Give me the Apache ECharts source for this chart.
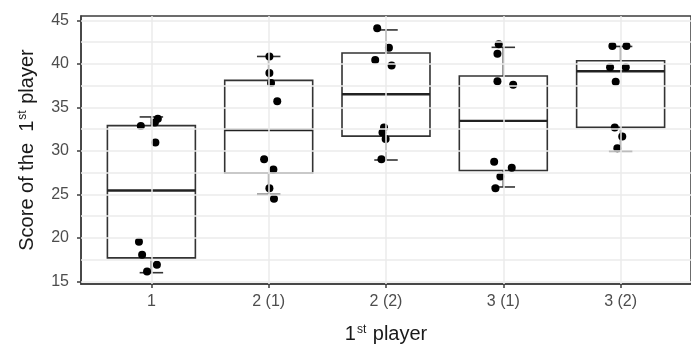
<!DOCTYPE html>
<html>
<head>
<meta charset="utf-8">
<script src="https://cdn.jsdelivr.net/npm/echarts@6/dist/echarts.min.js"></script>
<style>html,body{margin:0;padding:0;background:#fff}#c{width:691px;height:349px}</style>
</head>
<body>
<div id="c"></div>
<script>
const categories = ['1', '2 (1)', '2 (2)', '3 (1)', '3 (2)'];
// [lower whisker, Q1, median, Q3, upper whisker]
const boxLow    = [16.0, 25.0, 28.95, 25.85, 29.95];
const boxQ1     = [17.7, 27.45, 31.7, 27.75, 32.7];
const boxMedian = [25.45, 32.4, 36.5, 33.45, 39.15];
const boxQ3     = [32.9, 38.1, 41.25, 38.6, 40.35];
const boxHigh   = [33.9, 40.85, 43.9, 41.9, 42.0];
// jittered points: value and horizontal jitter (category units)
const pts1 = [33.7, 33.25, 32.85, 30.95, 19.55, 18.05, 16.9, 16.15];
const jit1 = [0.055, 0.03, -0.09, 0.034, -0.106, -0.079, 0.047, -0.037];
const pts2 = [40.85, 38.95, 37.8, 35.7, 29.05, 27.85, 25.7, 24.5];
const jit2 = [0.006, 0.006, 0.02, 0.073, -0.039, 0.04, 0.006, 0.045];
const pts3 = [44.1, 41.85, 40.45, 39.8, 32.7, 32.1, 31.35, 29.05];
const jit3 = [-0.075, 0.025, -0.092, 0.048, -0.017, -0.03, -0.003, -0.039];
const pts4 = [42.25, 41.15, 38.0, 37.6, 28.75, 28.05, 27.05, 25.7];
const jit4 = [-0.039, -0.05, -0.05, 0.084, -0.078, 0.072, -0.025, -0.067];
const pts5 = [42.05, 42.05, 39.6, 39.6, 37.95, 32.7, 31.65, 30.3];
const jit5 = [-0.07, 0.05, -0.09, 0.044, -0.042, -0.05, 0.014, -0.028];
const yTicks = [15, 20, 25, 30, 35, 40, 45];
const yGrid = [15, 17.5, 20, 22.5, 25, 27.5, 30, 32.5, 35, 37.5, 40, 42.5, 45];
const xTicks = [0, 1, 2, 3, 4];

const ptsAll = [pts1, pts2, pts3, pts4, pts5];
const jitAll = [jit1, jit2, jit3, jit4, jit5];
const scatterData = [];
ptsAll.forEach((arr, i) => arr.forEach((v, k) => scatterData.push([i + jitAll[i][k], v])));
const boxData = categories.map((c, i) => [i, boxLow[i], boxQ1[i], boxMedian[i], boxQ3[i], boxHigh[i]]);

const FONT = '"Liberation Sans", Arial, sans-serif';
const chart = echarts.init(document.getElementById('c'), null, {renderer: 'canvas'});
chart.setOption({
  animation: false,
  backgroundColor: '#fff',
  grid: {left: 81, right: -10.6, top: 16, bottom: 63, show: true, borderColor: '#3d3d3d', borderWidth: 1.5, backgroundColor: 'transparent'},
  xAxis: {
    type: 'value', min: -0.6, max: 4.6,
    axisLine: {show: true, onZero: false, lineStyle: {color: '#3d3d3d', width: 1.5}},
    splitLine: {show: false},
    axisTick: {show: true, customValues: xTicks, length: 4, lineStyle: {color: '#3d3d3d', width: 1.5}},
    axisLabel: {customValues: xTicks, formatter: v => categories[Math.round(v)], fontSize: 16, color: '#4d4d4d', margin: 10, fontFamily: FONT},
    name: '{a|1}{s|st}{a| player}', nameLocation: 'middle', nameGap: 40,
    nameTextStyle: {rich: {a: {fontSize: 20, color: '#1a1a1a', fontFamily: FONT}, s: {fontSize: 12, color: '#1a1a1a', fontFamily: FONT, verticalAlign: 'top', padding: [0, 1, 0, 1]}}}
  },
  yAxis: {
    type: 'value', min: 14.7, max: 45.5,
    axisLine: {show: true, onZero: false, lineStyle: {color: '#3d3d3d', width: 1.5}},
    splitLine: {show: false},
    axisTick: {show: true, customValues: yTicks, length: 4, lineStyle: {color: '#3d3d3d', width: 1.5}},
    axisLabel: {customValues: yTicks, fontSize: 16, color: '#4d4d4d', margin: 12, fontFamily: FONT},
    name: '{a|Score of the  1}{s|st}{a| player}', nameLocation: 'middle', nameRotate: 90, nameGap: 44,
    nameTextStyle: {rich: {a: {fontSize: 20, color: '#1a1a1a', fontFamily: FONT}, s: {fontSize: 12, color: '#1a1a1a', fontFamily: FONT, verticalAlign: 'top', padding: [0, 1, 0, 1]}}}
  },
  series: [
    {
      type: 'line', data: [], z: 1, silent: true,
      markLine: {
        silent: true, symbol: 'none', animation: false, label: {show: false},
        lineStyle: {color: '#ebebeb', width: 1.5, type: 'solid'},
        data: yGrid.map(v => ({yAxis: v})).concat(xTicks.map(v => ({xAxis: v})))
      }
    },
    {
      type: 'custom', z: 2, data: boxData,
      encode: {x: 0, y: [1, 2, 3, 4, 5]},
      renderItem: function (params, api) {
        const x = api.value(0);
        const lo = api.value(1), q1 = api.value(2), med = api.value(3), q3 = api.value(4), hi = api.value(5);
        const bw = api.size([1, 0])[0];
        const half = bw * 0.75 / 2, cap = bw * 0.2 / 2;
        const c = api.coord([x, 0])[0];
        const Y = v => api.coord([x, v])[1];
        const stroke = {stroke: '#333', lineWidth: 1.6, fill: null};
        return {type: 'group', children: [
          {type: 'line', shape: {x1: c, y1: Y(lo), x2: c, y2: Y(q1)}, style: stroke},
          {type: 'line', shape: {x1: c, y1: Y(q3), x2: c, y2: Y(hi)}, style: stroke},
          {type: 'line', shape: {x1: c - cap, y1: Y(lo), x2: c + cap, y2: Y(lo)}, style: stroke},
          {type: 'line', shape: {x1: c - cap, y1: Y(hi), x2: c + cap, y2: Y(hi)}, style: stroke},
          {type: 'rect', shape: {x: c - half, y: Y(q3), width: 2 * half, height: Y(q1) - Y(q3)}, style: {fill: '#fff', stroke: '#333', lineWidth: 1.6}},
          {type: 'line', shape: {x1: c - half, y1: Y(med), x2: c + half, y2: Y(med)}, style: {stroke: '#222', lineWidth: 2.4}}
        ]};
      }
    },
    {
      type: 'scatter', z: 3, data: scatterData, symbol: 'circle', symbolSize: 8,
      itemStyle: {color: '#000', opacity: 1}
    }
  ]
});
</script>
</body>
</html>
